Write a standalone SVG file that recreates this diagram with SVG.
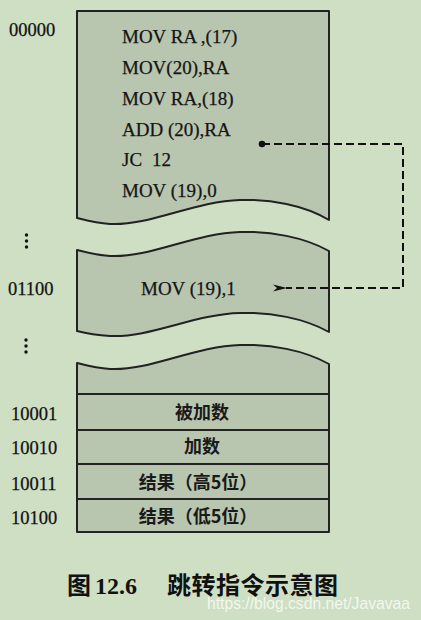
<svg xmlns="http://www.w3.org/2000/svg" width="421" height="620" viewBox="0 0 421 620">
<defs>
<style>
.bg{fill:#cedfc4}
.blk{fill:#b9c6af;stroke:#222;stroke-width:2;stroke-linejoin:round}
.row{fill:none;stroke:#222;stroke-width:2.2}
.code{font-family:"Liberation Serif","Times New Roman",serif;font-size:19px;fill:#151515;stroke:#151515;stroke-width:0.25}
.addr{font-family:"Liberation Serif","Times New Roman",serif;font-size:18.5px;fill:#111;stroke:#111;stroke-width:0.25}
.cjk{font-family:"Noto Sans CJK SC","Noto Sans CJK JP",sans-serif;font-size:18px;font-weight:bold;fill:#1a1a1a;text-anchor:middle}
.cap{font-family:"Liberation Serif","Noto Sans CJK SC",serif;font-size:24px;font-weight:bold;fill:#111}
.capc{font-family:"Noto Sans CJK SC",sans-serif;font-size:24px;font-weight:bold;fill:#111}
.wm{font-family:"Liberation Sans",Arial,sans-serif;font-size:17px;fill:#ffffff;fill-opacity:0.75}
.dots{fill:#111}
.conn{fill:none;stroke:#111;stroke-width:2;stroke-dasharray:8 4}
</style>
<marker id="arr" viewBox="0 0 14 8" refX="1" refY="4" markerWidth="14" markerHeight="8" markerUnits="userSpaceOnUse" orient="auto">
<path d="M0,4 L14,0.5 L10,4 L14,7.5 Z" fill="#111"/>
</marker>
</defs>
<rect class="bg" x="0" y="0" width="421" height="620"/>

<g id="block-program">
<path class="blk" d="M77,11 L329,11 L329,220 C304,205 270,199 240,200 C195,201 150,226 110,224 C95,223 85,220 77,218 Z"/>
<text class="code" x="122" y="43">MOV RA ,(17)</text>
<text class="code" x="122" y="74">MOV(20),RA</text>
<text class="code" x="122" y="105">MOV RA,(18)</text>
<text class="code" x="122" y="136">ADD (20),RA</text>
<text class="code" x="122" y="166">JC<tspan x="152">12</tspan></text>
<text class="code" x="122" y="197">MOV (19),0</text>
</g>

<g id="block-jump-target">
<path class="blk" d="M77,250 C85,252 95,255 110,256 C150,258 195,233 240,232 C270,231 304,237 329,251 L329,332 C304,318 270,312 240,313 C195,314 150,338 110,336 C95,335 85,333 77,331 Z"/>
<text class="code" x="141" y="295">MOV (19),1</text>
</g>

<g id="block-data">
<path class="blk" d="M77,363 C85,365 95,368 110,369 C150,371 195,346 240,345 C270,344 304,350 329,364 L329,532 L77,532 Z"/>
<line class="row" x1="77" y1="394" x2="329" y2="394"/>
<line class="row" x1="77" y1="430" x2="329" y2="430"/>
<line class="row" x1="77" y1="464" x2="329" y2="464"/>
<line class="row" x1="77" y1="499" x2="329" y2="499"/>
<text class="cjk" x="202" y="419">被加数</text>
<text class="cjk" x="202" y="453">加数</text>
<text class="cjk" x="198" y="489">结果（高5位）</text>
<text class="cjk" x="198" y="523">结果（低5位）</text>
</g>

<g id="addresses">
<text class="addr" x="9" y="36">00000</text>
<text class="addr" x="8" y="295">01100</text>
<text class="addr" x="11" y="420">10001</text>
<text class="addr" x="11" y="454">10010</text>
<text class="addr" x="11" y="490">10011</text>
<text class="addr" x="11" y="524">10100</text>
<g class="dots">
<circle cx="26.5" cy="235" r="1.7"/><circle cx="26.5" cy="241" r="1.7"/><circle cx="26.5" cy="247" r="1.7"/>
<circle cx="26" cy="340" r="1.7"/><circle cx="26" cy="346" r="1.7"/><circle cx="26" cy="352" r="1.7"/>
</g>
</g>

<g id="connectors">
<circle cx="262" cy="144" r="3.3" fill="#111"/>
<path class="conn" d="M262,144 H403 V288 H286" marker-end="url(#arr)"/>
</g>

<g id="caption">
<text class="capc" x="67" y="594">图</text>
<text class="cap" x="95" y="594">12.6</text>
<text class="capc" x="167" y="594" textLength="171" lengthAdjust="spacing">跳转指令示意图</text>
</g>
<text class="wm" x="207" y="609" textLength="203" lengthAdjust="spacingAndGlyphs">https://blog.csdn.net/Javavaa</text>
</svg>
